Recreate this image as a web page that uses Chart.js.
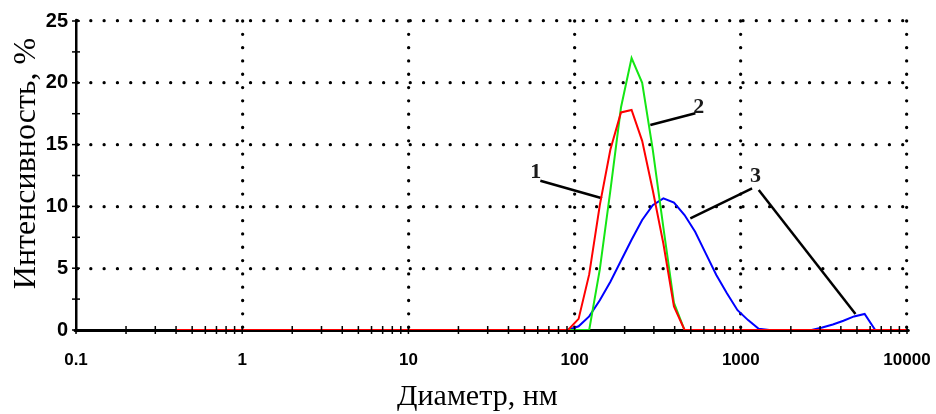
<!DOCTYPE html>
<html>
<head>
<meta charset="utf-8">
<script src="https://cdn.jsdelivr.net/npm/chart.js@4.4.0/dist/chart.umd.min.js"></script>
<style>
  html, body { margin: 0; padding: 0; background: #fff; }
</style>
</head>
<body>
<canvas id="sizeChart" width="936" height="414"></canvas>
<script>
// size classes of the analyser, nm
const diameters = [
  0.4, 0.4632, 0.5365, 0.6213, 0.7195, 0.8332, 0.9649, 1.117, 1.294, 1.499,
  1.736, 2.01, 2.328, 2.696, 3.122, 3.615, 4.187, 4.849, 5.615, 6.503,
  7.531, 8.721, 10.1, 11.7, 13.54, 15.69, 18.17, 21.04, 24.36, 28.21,
  32.67, 37.84, 43.82, 50.75, 58.77, 68.06, 78.82, 91.28, 105.7, 122.4,
  141.8, 164.2, 190.1, 220.2, 255, 295.3, 342, 396.1, 458.7, 531.2,
  615.1, 712.4, 825, 955.4, 1106, 1281, 1484, 1718, 1990, 2305,
  2669, 3091, 3580, 4145, 4801, 5560, 6439, 7456, 8635, 10000
];

// intensity, %
const curve1 = [
  0, 0, 0, 0, 0, 0, 0, 0, 0, 0,
  0, 0, 0, 0, 0, 0, 0, 0, 0, 0,
  0, 0, 0, 0, 0, 0, 0, 0, 0, 0,
  0, 0, 0, 0, 0, 0, 0, 0, 0.9, 4.5,
  10.1, 14.6, 17.6, 17.8, 15.3, 11.3, 7.0, 1.9, 0, 0,
  0, 0, 0, 0, 0, 0, 0, 0, 0, 0,
  0, 0, 0, 0, 0, 0, 0, 0, 0, 0
];
const curve2 = [
  0, 0, 0, 0, 0, 0, 0, 0, 0, 0,
  0, 0, 0, 0, 0, 0, 0, 0, 0, 0,
  0, 0, 0, 0, 0, 0, 0, 0, 0, 0,
  0, 0, 0, 0, 0, 0, 0, 0, 0, 0,
  4.9, 11.3, 18.0, 22.0, 20.0, 14.6, 8.3, 2.2, 0, 0,
  0, 0, 0, 0, 0, 0, 0, 0, 0, 0,
  0, 0, 0, 0, 0, 0, 0, 0, 0, 0
];
const curve3 = [
  0, 0, 0, 0, 0, 0, 0, 0, 0, 0,
  0, 0, 0, 0, 0, 0, 0, 0, 0, 0,
  0, 0, 0, 0, 0, 0, 0, 0, 0, 0,
  0, 0, 0, 0, 0, 0, 0, 0, 0.3, 1.1,
  2.4, 3.9, 5.6, 7.3, 8.9, 10.1, 10.65, 10.3, 9.3, 7.95,
  6.2, 4.45, 2.97, 1.6, 0.8, 0.1, 0, 0, 0, 0,
  0, 0.2, 0.45, 0.75, 1.1, 1.3, 0, 0, 0, 0
];

// axis ticks
const xMajorTicks = [0.1, 1, 10, 100, 1000, 10000];
const xTickLabels = ['0.1', '1', '10', '100', '1000', '10000'];
const xMinorSteps = [2, 3, 4, 5, 6, 7, 8, 9];
const yTickValues = [0, 2.5, 5, 7.5, 10, 12.5, 15, 17.5, 20, 22.5, 25];
const yTickLabels = ['0', '', '5', '', '10', '', '15', '', '20', '', '25'];

// curve numbers and their leader lines (data coordinates)
const curveLabels = ['1', '2', '3'];
const labelPoints = [[58.4, 12.74], [558, 18.0], [1224, 12.43]];
const leaderLines = [
  [[62.2, 12.08], [146.2, 10.66]],
  [[533, 17.53], [285.6, 16.59]],
  [[1169.5, 11.46], [497, 9.04]],
  [[1282, 11.33], [4898, 1.29]]
];

const xTickValues = [];
xMajorTicks.forEach((d, i) => {
  xTickValues.push(d);
  if (i < xMajorTicks.length - 1) xMinorSteps.forEach(m => xTickValues.push(+(d * m).toPrecision(3)));
});

const toPoints = vals => vals.map((v, i) => ({ x: diameters[i], y: v }));

const xTickFont = { family: '"Liberation Sans", Arial, sans-serif', size: 17, weight: 'bold' };
const yTickFont = { family: '"Liberation Sans", Arial, sans-serif', size: 20, weight: 'bold' };
const dotted = [0.01, 13.3];

const curveSets = [
  { data: toPoints(curve1), borderColor: 'rgb(255,0,0)' },
  { data: toPoints(curve2), borderColor: 'rgb(20,230,20)' },
  { data: toPoints(curve3), borderColor: 'rgb(0,0,255)' }
].map(ds => Object.assign(ds, { borderWidth: 2, pointRadius: 0, tension: 0, fill: false }));

const leaderSets = leaderLines.map(seg => ({
  data: seg.map(p => ({ x: p[0], y: p[1] })),
  borderColor: '#000',
  borderWidth: 2.5,
  pointRadius: 0,
  fill: false
}));

const roundDots = {
  id: 'roundDots',
  beforeDraw(chart) {
    chart.ctx.lineCap = 'round';
  }
};

const extras = {
  id: 'extras',
  afterDraw(chart) {
    const ctx = chart.ctx;
    const area = chart.chartArea;
    const xs = chart.scales.x;
    const ys = chart.scales.y;
    ctx.save();
    ctx.lineCap = 'butt';
    ctx.strokeStyle = '#000';
    ctx.lineWidth = 1.5;
    // ticks crossing the axes
    xTickValues.forEach(v => {
      const px = xs.getPixelForValue(v);
      ctx.beginPath();
      ctx.moveTo(px, area.bottom - 4);
      ctx.lineTo(px, area.bottom + 4);
      ctx.stroke();
    });
    yTickValues.forEach(v => {
      const py = ys.getPixelForValue(v);
      ctx.beginPath();
      ctx.moveTo(area.left - 4, py);
      ctx.lineTo(area.left + 4, py);
      ctx.stroke();
    });

    // curve numbers
    ctx.fillStyle = '#1a1a1a';
    ctx.font = 'bold 22px "Liberation Serif", "Times New Roman", serif';
    ctx.textAlign = 'center';
    ctx.textBaseline = 'middle';
    curveLabels.forEach((t, i) => {
      ctx.fillText(t, xs.getPixelForValue(labelPoints[i][0]), ys.getPixelForValue(labelPoints[i][1]));
    });

    // axis titles
    ctx.fillStyle = '#000';
    ctx.font = '30px "Liberation Serif", "Times New Roman", serif';
    ctx.textBaseline = 'alphabetic';
    ctx.fillText('Диаметр, нм', area.left + (area.right - area.left) * 0.483, area.bottom + 75);
    ctx.font = '32px "Liberation Serif", "Times New Roman", serif';
    ctx.translate(area.left - 49, (area.top + area.bottom) / 2 - 12);
    ctx.rotate(-Math.PI / 2);
    ctx.textBaseline = 'middle';
    ctx.fillText('Интенсивность, %', 0, 0);
    ctx.restore();
  }
};

new Chart(document.getElementById('sizeChart'), {
  type: 'line',
  data: { datasets: curveSets.concat(leaderSets) },
  options: {
    responsive: false,
    animation: false,
    devicePixelRatio: 1,
    layout: { padding: { top: 21, right: 29, left: 0, bottom: 0 } },
    plugins: { legend: { display: false }, tooltip: { enabled: false } },
    scales: {
      x: {
        type: 'logarithmic',
        min: 0.1,
        max: 10000,
        z: 1,
        afterBuildTicks: scale => {
          scale.ticks = xTickValues.map(v => ({ value: v, major: xMajorTicks.includes(v) }));
        },
        afterFit: scale => {
          scale.height = 84;
          scale.paddingLeft = 0;
          scale.paddingRight = 0;
        },
        ticks: {
          autoSkip: false,
          maxRotation: 0,
          padding: 20,
          color: '#000',
          font: xTickFont,
          callback: v => {
            const i = xMajorTicks.indexOf(v);
            return i >= 0 ? xTickLabels[i] : '';
          }
        },
        grid: {
          drawTicks: false,
          lineWidth: 3.3,
          color: c => (c.tick && c.tick.value > 0.1 && xMajorTicks.includes(c.tick.value)) ? '#000' : 'rgba(0,0,0,0)'
        },
        border: { display: true, color: '#000', width: 3, dash: dotted }
      },
      y: {
        min: 0,
        max: 25,
        afterBuildTicks: scale => {
          scale.ticks = yTickValues.map(v => ({ value: v }));
        },
        afterFit: scale => {
          scale.width = 76;
          scale.paddingTop = 0;
          scale.paddingBottom = 0;
        },
        ticks: {
          padding: 8,
          color: '#000',
          font: yTickFont,
          callback: (v, i) => yTickLabels[yTickValues.indexOf(v)] || ''
        },
        grid: {
          drawTicks: false,
          lineWidth: 3.3,
          color: c => (c.tick && c.tick.value > 0 && c.tick.value % 5 === 0) ? '#000' : 'rgba(0,0,0,0)'
        },
        border: { display: true, color: '#000', width: 2.5, dash: dotted }
      }
    }
  },
  plugins: [roundDots, extras]
});
</script>
</body>
</html>
